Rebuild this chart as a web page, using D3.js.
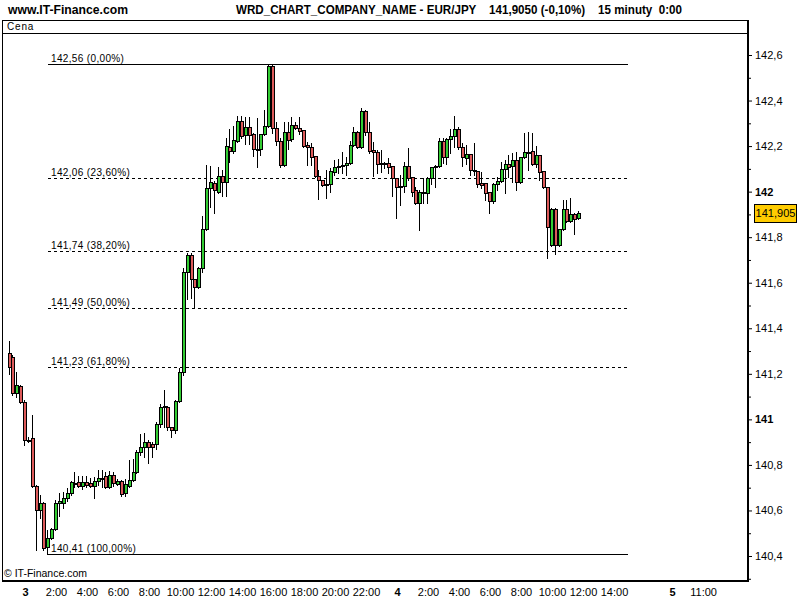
<!DOCTYPE html>
<html><head><meta charset="utf-8">
<script src="https://cdn.jsdelivr.net/npm/d3@7"></script>
<style>body{margin:0;background:#fff}svg{display:block}</style>
</head><body><svg id="c" width="800" height="600"></svg>
<script>
// ---------- data ----------
const firstSlot = -4; // 15-minute bars, slot 0 = day 3, 0:00
const opens = [141.290,141.275,141.114,141.146,141.077,140.909,140.917,140.707,140.602,140.634,140.438,140.477,140.517,140.634,140.634,140.653,140.675,140.719,140.723,140.708,140.726,140.719,140.708,140.730,140.740,140.752,140.701,140.755,140.716,140.730,140.675,140.708,140.733,140.770,140.858,140.880,140.902,140.892,140.892,140.979,141.055,141.055,140.966,140.953,141.082,141.206,141.648,141.722,141.615,141.582,141.663,141.834,142.015,142.037,142.000,142.070,142.041,142.195,142.180,142.224,142.310,142.249,142.282,142.252,142.186,142.186,142.252,142.288,142.552,142.278,142.222,142.118,142.262,142.230,142.293,142.278,142.271,142.205,142.198,142.156,142.069,142.050,142.032,142.032,142.087,142.107,142.113,142.117,142.124,142.205,142.260,142.195,142.355,142.263,142.183,142.173,142.124,142.122,142.124,142.112,142.058,142.025,142.025,142.112,142.063,142.007,141.949,141.999,141.993,142.058,142.107,142.112,142.224,142.151,142.231,142.244,142.275,142.195,142.146,142.165,142.093,142.092,142.037,142.037,142.000,141.960,142.032,142.047,142.098,142.121,142.112,142.139,142.044,142.151,142.175,142.178,142.121,142.161,142.091,142.019,141.766,141.924,141.766,141.834,141.924,141.872,141.900,141.883];
const highs = [141.344,141.282,141.209,141.151,141.085,140.922,141.019,140.711,140.668,140.637,140.514,140.523,140.646,140.678,140.682,140.697,140.729,140.770,140.751,140.751,140.751,140.742,140.748,140.777,140.777,140.770,140.773,140.770,140.737,140.733,140.737,140.821,140.824,140.865,140.935,140.940,140.909,140.902,140.989,141.067,141.129,141.058,140.968,141.085,141.225,141.665,141.730,141.730,141.616,141.669,141.893,142.117,142.112,142.047,142.109,142.095,142.234,142.274,142.288,142.332,142.332,142.329,142.328,142.256,142.322,142.253,142.360,142.560,142.560,142.307,142.235,142.307,142.307,142.329,142.306,142.329,142.271,142.219,142.215,142.156,142.095,142.051,142.095,142.102,142.139,142.142,142.175,142.153,142.224,142.282,142.268,142.366,142.358,142.307,142.219,142.183,142.183,142.131,142.146,142.112,142.058,142.073,142.131,142.190,142.063,142.019,142.007,142.058,142.063,142.109,142.117,142.234,142.234,142.234,142.274,142.332,142.285,142.215,142.205,142.165,142.212,142.092,142.087,142.039,142.000,142.037,142.063,142.131,142.139,142.161,142.168,142.175,142.153,142.259,142.263,142.259,142.200,142.161,142.091,142.019,141.927,141.927,141.836,141.963,141.963,141.971,141.905,141.916];
const lows = [141.198,141.107,141.099,141.070,140.887,140.902,140.703,140.426,140.567,140.426,140.410,140.474,140.514,140.575,140.609,140.643,140.668,140.701,140.704,140.693,140.704,140.704,140.653,140.711,140.704,140.697,140.698,140.707,140.711,140.664,140.663,140.704,140.729,140.766,140.843,140.834,140.808,140.836,140.868,140.968,140.968,140.953,140.924,140.940,141.077,141.195,141.527,141.531,141.495,141.577,141.648,141.831,141.932,141.907,141.993,141.982,141.982,142.131,142.171,142.219,142.234,142.209,142.209,142.156,142.109,142.161,142.249,142.282,142.256,142.203,142.108,142.112,142.186,142.222,142.275,142.253,142.196,142.117,142.117,142.064,141.966,142.025,141.971,142.000,142.073,142.083,142.080,142.073,142.121,142.200,142.190,142.190,142.249,142.168,142.069,142.083,142.087,142.102,142.080,141.981,141.885,141.941,142.000,142.051,141.981,141.946,141.831,141.951,141.951,142.033,142.022,142.109,142.124,142.121,142.171,142.197,142.186,142.112,142.121,142.073,142.073,142.022,142.015,141.963,141.907,141.949,142.007,142.044,141.993,142.063,142.044,142.007,142.039,142.146,142.095,142.117,142.109,142.051,142.015,141.707,141.761,141.726,141.761,141.831,141.868,141.868,141.814,141.878];
const closes = [141.231,141.114,141.151,141.077,140.909,140.911,140.707,140.602,140.631,140.433,140.477,140.517,140.634,140.643,140.653,140.678,140.726,140.717,140.708,140.726,140.711,140.708,140.730,140.744,140.742,140.701,140.755,140.719,140.730,140.672,140.716,140.733,140.770,140.858,140.880,140.902,140.880,140.877,140.979,141.055,141.058,140.965,140.953,141.082,141.206,141.648,141.722,141.615,141.582,141.663,141.834,142.015,142.041,142.007,142.070,142.041,142.202,142.180,142.227,142.310,142.244,142.282,142.249,142.186,142.184,142.252,142.288,142.552,142.278,142.221,142.118,142.262,142.228,142.293,142.278,142.268,142.202,142.198,142.153,142.069,142.050,142.029,142.030,142.091,142.107,142.112,142.115,142.127,142.205,142.260,142.197,142.355,142.260,142.180,142.173,142.121,142.122,142.124,142.109,142.058,142.022,142.023,142.112,142.058,142.000,141.951,142.000,141.997,142.058,142.107,142.112,142.224,142.151,142.231,142.244,142.275,142.195,142.151,142.165,142.095,142.091,142.032,142.029,141.995,141.960,142.032,142.047,142.098,142.121,142.109,142.139,142.044,142.151,142.175,142.174,142.121,142.161,142.087,142.019,141.843,141.924,141.766,141.834,141.924,141.872,141.900,141.880,141.905];

const fibLevels = [142.56, 142.06, 141.74, 141.49, 141.23, 140.41];
const fibPercents = ["0,00%", "23,60%", "38,20%", "50,00%", "61,80%", "100,00%"];
const fibSolid = [true, false, false, false, false, true];
const fibFromSlot = 6, fibToSlot = 155.5;

const yMajor = [140.4, 140.6, 140.8, 141, 141.2, 141.4, 141.6, 141.8, 142, 142.2, 142.4, 142.6];
const yMinor = [140.3, 140.5, 140.7, 140.9, 141.1, 141.3, 141.5, 141.7, 141.9, 142.1, 142.3, 142.5];

const xTickSlots  = [0, 8, 16, 24, 32, 40, 48, 56, 64, 72, 80, 88, 96, 104, 112, 120, 128, 136, 144, 152, 167, 175];
const xTickLabels = ["3","2:00","4:00","6:00","8:00","10:00","12:00","14:00","16:00","18:00","20:00","22:00","4","2:00","4:00","6:00","8:00","10:00","12:00","14:00","5","11:00"];
const dayLabels = ["3","4","5"];

const lastPrice = 141.905;
const headerTitle = "WRD_CHART_COMPANY_NAME - EUR/JPY    141,9050 (-0,10%)    15 minuty  0:00";

// ---------- drawing ----------
const svg = d3.select('#c');
const W = 800, H = 600;
const plotL = 2, plotR = 748, boxTop = 20, plotTop = 33, plotBottom = 581;

const x = d3.scaleLinear().domain([0, 96]).range([25, 397]);
const y = d3.scaleLinear().domain([140.4, 142.6]).range([556, 55]);
const comma = (v, n) => v.toFixed(n).replace('.', ',');

svg.append('rect').attr('width', W).attr('height', H).attr('fill', '#fff');

// header
svg.append('text').attr('x', 8).attr('y', 14)
  .attr('font-family', '"Liberation Sans Narrow","Arial Narrow","Liberation Sans",Arial,sans-serif')
  .attr('font-weight', 'bold').attr('font-size', 13)
  .attr('textLength', 120).attr('lengthAdjust', 'spacingAndGlyphs')
  .text('www.IT-Finance.com');
svg.append('text').attr('x', 236).attr('y', 14)
  .attr('font-family', '"Liberation Sans Narrow","Arial Narrow","Liberation Sans",Arial,sans-serif')
  .attr('font-weight', 'bold').attr('font-size', 13)
  .attr('textLength', 446).attr('lengthAdjust', 'spacingAndGlyphs')
  .style('white-space', 'pre')
  .text(headerTitle);

// frame
svg.append('rect').attr('x', plotL + 0.5).attr('y', boxTop + 0.5)
  .attr('width', plotR - plotL - 1).attr('height', plotTop - boxTop)
  .attr('fill', 'none').attr('stroke', '#000');
svg.append('text').attr('x', 7).attr('y', 30)
  .attr('font-family', '"Liberation Sans",Arial,sans-serif').attr('font-size', 10)
  .attr('letter-spacing', 0.8).text('Cena');
svg.append('line').attr('x1', plotL + 0.5).attr('x2', plotL + 0.5)
  .attr('y1', boxTop).attr('y2', plotBottom).attr('stroke', '#000');

// fibonacci lines
const fx1 = Math.round(x(fibFromSlot)), fx2 = Math.round(x(fibToSlot));
fibLevels.forEach((lv, i) => {
  const yy = Math.round(y(lv)) + 0.5;
  svg.append('line').attr('x1', fx1).attr('x2', fx2).attr('y1', yy).attr('y2', yy)
    .attr('stroke', '#000').attr('stroke-width', 1)
    .attr('stroke-dasharray', fibSolid[i] ? null : '3,3');
  svg.append('text').attr('x', fx1 + 3).attr('y', yy - 3)
    .attr('font-family', '"Liberation Sans",Arial,sans-serif').attr('font-size', 10)
    .attr('letter-spacing', 0.35)
    .text(comma(lv, 2) + ' (' + fibPercents[i] + ')');
});

// candles
const bars = opens.map((o, i) => ({slot: firstSlot + i, o, h: highs[i], l: lows[i], c: closes[i]}));
const cg = svg.append('g');
bars.forEach(b => {
  const cx = Math.round(x(b.slot));
  cg.append('line').attr('x1', cx - 0.5).attr('x2', cx - 0.5)
    .attr('y1', Math.round(y(b.h))).attr('y2', Math.round(y(b.l)) + 1)
    .attr('stroke', '#000').attr('stroke-width', 1);
  const top = Math.round(y(Math.max(b.o, b.c)));
  const bot = Math.round(y(Math.min(b.o, b.c)));
  const up = b.c >= b.o;
  cg.append('rect').attr('x', cx - 1.5).attr('y', top + 0.5)
    .attr('width', 3).attr('height', Math.max(1, bot - top))
    .attr('fill', up ? '#33cc33' : '#dd5a5a').attr('stroke', '#000').attr('stroke-width', 1);
});

// y axis
const isInt = v => Math.abs(v - Math.round(v)) < 1e-9;
const fmtY = v => isInt(v) ? String(Math.round(v)) : comma(v, 1);
const yAx = svg.append('g').attr('transform', `translate(${plotR},0)`)
  .call(d3.axisRight(y).tickValues(yMajor).tickSize(4).tickPadding(3).tickFormat(fmtY));
yAx.select('.domain').remove();
yAx.selectAll('text').attr('font-family', '"Liberation Sans",Arial,sans-serif').attr('font-size', 11)
  .attr('fill', '#000')
  .attr('font-weight', d => isInt(d) ? 'bold' : 'normal');
yAx.selectAll('line').attr('stroke', '#000');
const yMin = svg.append('g').attr('transform', `translate(${plotR},0)`)
  .call(d3.axisRight(y).tickValues(yMinor).tickSize(3).tickFormat(''));
yMin.select('.domain').remove();
yMin.selectAll('line').attr('stroke', '#000');

// x axis labels
const xAx = svg.append('g').attr('transform', `translate(0,${plotBottom})`)
  .call(d3.axisBottom(x).tickValues(xTickSlots).tickSize(0).tickPadding(7)
    .tickFormat((d, i) => xTickLabels[i]));
xAx.select('.domain').remove();
xAx.selectAll('text').attr('font-family', '"Liberation Sans",Arial,sans-serif').attr('font-size', 11)
  .attr('fill', '#000')
  .attr('font-weight', (d, i) => dayLabels.includes(xTickLabels[i]) ? 'bold' : 'normal');

// thick axis lines
svg.append('rect').attr('x', plotR - 1).attr('y', boxTop).attr('width', 2).attr('height', plotBottom - boxTop + 1).attr('fill', '#000');
svg.append('rect').attr('x', plotL).attr('y', plotBottom - 1).attr('width', plotR - plotL + 1).attr('height', 2).attr('fill', '#000');

// copyright
svg.append('text').attr('x', 4).attr('y', 577)
  .attr('font-family', '"Liberation Sans",Arial,sans-serif').attr('font-size', 10.5)
  .text('© IT-Finance.com');

// last price marker
const ly = y(lastPrice);
svg.append('rect').attr('x', 754.5).attr('y', Math.round(ly) - 9 + 0.5).attr('width', 42).attr('height', 18)
  .attr('fill', '#ffcc00').attr('stroke', '#000');
svg.append('text').attr('x', 775.5).attr('y', Math.round(ly) + 4).attr('text-anchor', 'middle')
  .attr('font-family', '"Liberation Sans",Arial,sans-serif').attr('font-size', 11)
  .text(comma(lastPrice, 3));
</script></body></html>
